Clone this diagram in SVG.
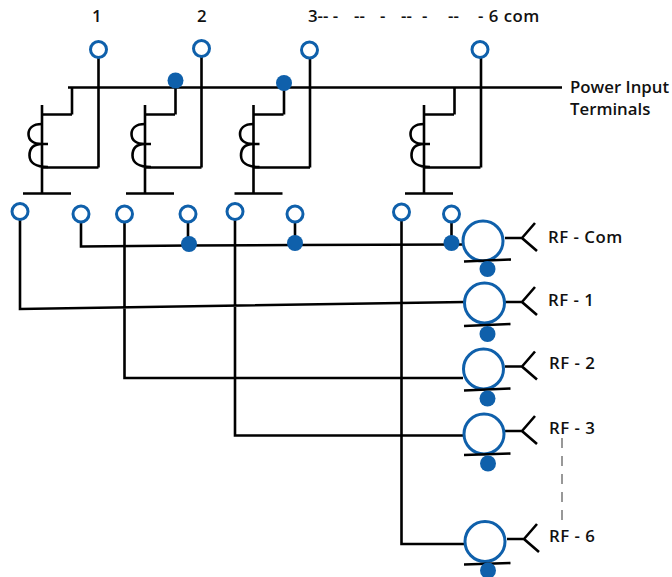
<svg xmlns="http://www.w3.org/2000/svg" width="672" height="577" viewBox="0 0 672 577">
<style>
.w{fill:none;stroke:#000;stroke-width:2.6}
.o{fill:#fff;stroke:#0f60ab;stroke-width:3}
.c{fill:#fff;stroke:#0f60ab;stroke-width:3}
.d{fill:#0f60ab}
text{font-family:"Open Sans","Liberation Sans",sans-serif;font-weight:600;font-size:16.8px;fill:#111}
.r{letter-spacing:.5px}
</style>
<defs>
<g id="relay">
<path class="w" d="M42 105V193M23 193.500H71M42 114.500H72M42 167.500H98.500"/>
<path class="w" d="M42 124C32 124 28.500 129 28.500 134C28.500 140 33 144 42 144H48M42 144C33 144 29.500 149 29.500 155.500C29.500 162 35 167 48 167"/>
</g>
<g id="fork"><path class="w" d="M0 0H17M30 -15L17 0L32 13"/></g>
</defs>
<g id="connectors">
<path class="w" d="M68 87.500H562M72 88V114.500M175.500 81V114.500M284 84V114.500M454.500 88V114.500"/>
<path class="w" d="M98.500 57V167.500M201.500 56V167.500M310 58V167.500M481 57V167.500"/>
<path class="w" d="M81 222V246.500L189 245.500L295 245L463 244.500"/>
<path class="w" d="M188 222V244M295 222V243M451.500 222V243"/>
<path class="w" d="M20 219V309L465 302M124.500 222V378H463M235 219V435.500H463M401.500 220V544H464"/>
<path d="M562 438V522" fill="none" stroke="#777" stroke-width="1.500" stroke-dasharray="10 8"/>
</g>
<g id="relay-1"><use href="#relay"/></g>
<g id="relay-2"><use href="#relay" x="103"/></g>
<g id="relay-3"><use href="#relay" x="211.500"/></g>
<g id="relay-4"><use href="#relay" x="382"/></g>
<g id="top-terminals">
<circle class="o" cx="98.500" cy="49.500" r="8"/><circle class="o" cx="201.500" cy="48.500" r="8"/><circle class="o" cx="309.500" cy="50" r="8"/><circle class="o" cx="480" cy="49.500" r="8"/>
<circle class="d" cx="175.500" cy="80.500" r="8"/><circle class="d" cx="284" cy="83" r="8"/>
</g>
<g id="bottom-terminals">
<circle class="o" cx="20" cy="211.500" r="8"/><circle class="o" cx="81" cy="214" r="8"/><circle class="o" cx="124.500" cy="214" r="8"/><circle class="o" cx="188" cy="214" r="8"/><circle class="o" cx="235" cy="211.500" r="8"/><circle class="o" cx="295" cy="214" r="8"/><circle class="o" cx="401.500" cy="212" r="8"/><circle class="o" cx="451.500" cy="214" r="8"/>
<circle class="d" cx="189" cy="244" r="8"/><circle class="d" cx="295" cy="243" r="8"/><circle class="d" cx="451.500" cy="243" r="8"/>
</g>
<g id="rf-com"><use href="#fork" x="505" y="238"/><circle class="c" cx="483" cy="241" r="20"/><path class="w" d="M464 261.500L511 259.500"/><circle class="d" cx="487.500" cy="269" r="8"/></g>
<g id="rf-1"><use href="#fork" x="505" y="302"/><circle class="c" cx="484.500" cy="303" r="20"/><path class="w" d="M464 326L510.500 324"/><circle class="d" cx="487.500" cy="334" r="8"/></g>
<g id="rf-2"><use href="#fork" x="505" y="366.500"/><circle class="c" cx="483.500" cy="369" r="20"/><path class="w" d="M464 390.500L510.500 388.500"/><circle class="d" cx="487.500" cy="398.500" r="8"/></g>
<g id="rf-3"><use href="#fork" x="505" y="431"/><circle class="c" cx="484" cy="434" r="20"/><path class="w" d="M464 455L510.500 453.500"/><circle class="d" cx="488" cy="463.500" r="8"/></g>
<g id="rf-6"><use href="#fork" x="507" y="539"/><circle class="c" cx="485" cy="541.500" r="20"/><path class="w" d="M464 564.500L510.500 563"/><circle class="d" cx="488" cy="570.500" r="8"/></g>
<g id="labels">
<text x="92" y="22">1</text><text x="197" y="22">2</text>
<text x="308" y="22">3-- -</text><text x="354" y="22">--</text><text x="380" y="22">-</text><text x="401" y="22">--</text><text x="422" y="22">-</text><text x="448" y="22">--</text><text class="r" x="478" y="22">- 6 com</text>
<text x="570" y="93">Power Input</text><text x="570" y="115">Terminals</text>
<text class="r" x="548" y="243">RF - Com</text><text class="r" x="548" y="306">RF - 1</text><text class="r" x="549" y="369">RF - 2</text><text class="r" x="549" y="434">RF - 3</text><text class="r" x="549" y="542">RF - 6</text>
</g>
</svg>
